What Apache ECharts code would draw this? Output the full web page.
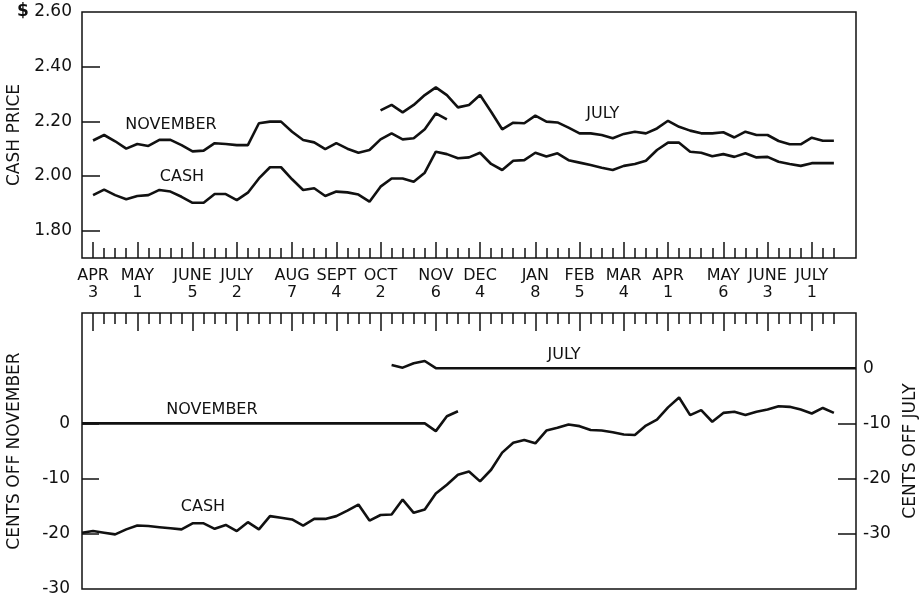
<!DOCTYPE html>
<html><head><meta charset="utf-8">
<script src="https://cdn.jsdelivr.net/npm/echarts@6/dist/echarts.min.js"></script>
<style>html,body{margin:0;padding:0;background:#fff}#c{width:923px;height:599px}</style>
</head><body><div id="c"></div>
<script>
// ---- axis / tick data ----
const N = 71; // weekly positions on the time axis (week 0 = one week before APR 3)
const majorIdx = [1,5,10,14,19,23,27,32,36,41,45,49,53,58,62,66];
const monthLabels = ['APR','MAY','JUNE','JULY','AUG','SEPT','OCT','NOV','DEC','JAN','FEB','MAR','APR','MAY','JUNE','JULY'];
const dayLabels = ['3','1','5','2','7','4','2','6','4','8','5','4','1','6','3','1'];
const firstWeekTick = 1, lastWeekTick = 68;
const priceLabels = [1.8, 2.0, 2.2, 2.4, 2.6];
const priceTicks = [1.8, 2.0, 2.2, 2.4];
const novLabels = [-30, -20, -10, 0];
const novTicks = [-20, -10, 0];
const julyLabels = [-30, -20, -10, 0];
const julyTicks = [-30, -20, -10, 0];

// ---- series data (start week + weekly values) ----
const novPriceStart = 1;
const novPrice = [2.13,2.15,2.127,2.10,2.117,2.11,2.132,2.132,2.113,2.09,2.093,2.12,2.117,2.113,2.113,2.193,2.199,2.199,2.162,2.132,2.123,2.098,2.12,2.10,2.085,2.095,2.134,2.156,2.134,2.138,2.171,2.229,2.207];
const cashPriceStart = 1;
const cashPrice = [1.93,1.95,1.93,1.915,1.927,1.93,1.949,1.943,1.924,1.902,1.902,1.934,1.934,1.912,1.939,1.991,2.032,2.032,1.988,1.949,1.955,1.927,1.943,1.94,1.932,1.906,1.961,1.991,1.991,1.979,2.012,2.089,2.08,2.065,2.068,2.085,2.044,2.022,2.056,2.058,2.085,2.071,2.083,2.058,2.049,2.04,2.03,2.022,2.037,2.044,2.056,2.095,2.122,2.122,2.089,2.085,2.072,2.08,2.07,2.083,2.068,2.07,2.052,2.044,2.037,2.047,2.047,2.047];
const julyPriceStart = 27;
const julyPrice = [2.24,2.26,2.233,2.26,2.296,2.324,2.296,2.251,2.26,2.296,2.235,2.171,2.195,2.193,2.221,2.199,2.196,2.177,2.156,2.156,2.15,2.138,2.154,2.162,2.156,2.174,2.202,2.18,2.166,2.156,2.156,2.16,2.141,2.162,2.15,2.15,2.128,2.116,2.116,2.14,2.129,2.129];

const cashBasisStart = 0; // cents (left scale)
const cashBasis = [-19.8,-19.5,-19.8,-20.1,-19.2,-18.5,-18.6,-18.8,-19.0,-19.2,-18.1,-18.1,-19.1,-18.4,-19.5,-17.9,-19.2,-16.8,-17.1,-17.4,-18.5,-17.3,-17.3,-16.8,-15.8,-14.7,-17.6,-16.6,-16.5,-13.8,-16.2,-15.6,-12.7,-11.1,-9.3,-8.7,-10.5,-8.4,-5.3,-3.5,-3.0,-3.6,-1.3,-0.8,-0.2,-0.5,-1.2,-1.3,-1.6,-2.0,-2.1,-0.4,0.7,2.9,4.7,1.5,2.4,0.3,1.9,2.1,1.5,2.1,2.5,3.1,3.0,2.5,1.8,2.8,1.9];
const novBasisStart = 0; // cents off November (left scale)
const novBasis = [0,0,0,0,0,0,0,0,0,0,0,0,0,0,0,0,0,0,0,0,0,0,0,0,0,0,0,0,0,0,0,0,-1.4,1.3,2.2];
const julyBasisStart = 28; // cents off July (right scale)
const julyBasis = [0.6,0.1,0.9,1.3,0,0,0,0,0,0,0,0,0,0,0,0,0,0,0,0,0,0,0,0,0,0,0,0,0,0,0,0,0,0,0,0,0,0,0,0,0,0,0];

// ---- annotation anchors (week, value) ----
const topNotes = [['NOVEMBER', 8.05, 2.187], ['CASH', 9.04, 1.996], ['JULY', 47.1, 2.227]];
const botNotes = [['NOVEMBER', 11.75, 2.4], ['CASH', 10.94, -15.1], ['JULY', 43.6, 12.4]];

function place(start, vals) {
  const a = new Array(N).fill(null);
  vals.forEach((v, k) => { a[start + k] = v; });
  return a;
}
const cats = Array.from({length: N}, (_, i) => String(i));
function weekLabel(v) {
  const k = majorIdx.indexOf(Number(v));
  return k >= 0 ? monthLabels[k] + '\n' + dayLabels[k] : '';
}
const INK = '#111111';
const FONT = 'DejaVu Sans';
const isMinor = (i) => i >= firstWeekTick && i <= lastWeekTick;
const isMajor = (i) => majorIdx.indexOf(i) >= 0;

function catAxis(grid, pos, tickFn, len, extra) {
  return Object.assign({
    type: 'category', gridIndex: grid, position: pos, data: cats, boundaryGap: false,
    axisLine: {show: false, onZero: false},
    axisTick: {show: true, inside: true, length: len, interval: (i) => tickFn(i), lineStyle: {color: INK, width: 1.5}},
    axisLabel: {show: false},
    splitLine: {show: false}
  }, extra || {});
}

const lineStyle = {color: INK, width: 2.6};
function lineSeries(xi, yi, data) {
  return {type: 'line', xAxisIndex: xi, yAxisIndex: yi, data: data, symbol: 'none',
    lineStyle: lineStyle, connectNulls: false, silent: true, z: 3};
}
function noteSeries(xi, yi, notes) {
  return {type: 'scatter', xAxisIndex: xi, yAxisIndex: yi, symbolSize: 0, silent: true,
    itemStyle: {opacity: 1},
    data: notes.map(n => ({name: n[0], value: [n[1], n[2]]})),
    label: {show: true, position: 'inside', formatter: (p) => p.name,
      color: INK, fontFamily: FONT, fontSize: 16, textBorderWidth: 0, opacity: 1}};
}

const gridBase = {width: 774, show: true, borderColor: INK, borderWidth: 1.5,
  backgroundColor: 'transparent', containLabel: false, outerBoundsMode: 'none'};
const nameStyle = {fontFamily: FONT, fontSize: 17, color: INK};

const option = {
  animation: false,
  backgroundColor: '#fff',
  textStyle: {fontFamily: FONT, color: INK},
  grid: [
    Object.assign({left: 82, top: 12, height: 246}, gridBase),
    Object.assign({left: 82, top: 313, height: 276}, gridBase)
  ],
  xAxis: [
    catAxis(0, 'bottom', isMinor, 10, {
      axisLabel: {show: true, interval: 0, formatter: weekLabel, color: INK, fontFamily: FONT,
        fontSize: 16, lineHeight: 17, margin: 9}
    }),
    catAxis(0, 'bottom', isMajor, 16),
    catAxis(1, 'top', isMinor, 11),
    catAxis(1, 'top', isMajor, 18),
    {type: 'value', gridIndex: 0, min: 0, max: N - 1, show: false},
    {type: 'value', gridIndex: 1, min: 0, max: N - 1, show: false}
  ],
  yAxis: [
    {type: 'value', gridIndex: 0, position: 'left', min: 1.7, max: 2.6,
      name: 'CASH PRICE', nameLocation: 'middle', nameGap: 59, nameRotate: 90, nameMoveOverlap: false,
      nameTextStyle: nameStyle,
      axisLine: {show: false, onZero: false}, splitLine: {show: false},
      axisTick: {show: true, inside: true, length: 18, customValues: priceTicks, lineStyle: {color: INK, width: 1.5}},
      axisLabel: {show: true, customValues: priceLabels, margin: 10, fontFamily: FONT, fontSize: 17, color: INK,
        formatter: (v) => v >= 2.59 ? '{d|$} ' + v.toFixed(2) : v.toFixed(2),
        rich: {d: {fontWeight: 'bold', fontSize: 17, fontFamily: FONT, color: INK}}}},
    {type: 'value', gridIndex: 1, position: 'left', min: -30, max: 20,
      name: 'CENTS OFF NOVEMBER', nameLocation: 'middle', nameGap: 59, nameRotate: 90, nameMoveOverlap: false,
      nameTextStyle: nameStyle,
      axisLine: {show: false, onZero: false}, splitLine: {show: false},
      axisTick: {show: true, inside: true, length: 17, customValues: novTicks, lineStyle: {color: INK, width: 1.5}},
      axisLabel: {show: true, customValues: novLabels, margin: 12, fontFamily: FONT, fontSize: 17, color: INK}},
    {type: 'value', gridIndex: 1, position: 'right', min: -40, max: 10,
      name: 'CENTS OFF JULY', nameLocation: 'middle', nameGap: 46, nameRotate: 90, nameMoveOverlap: false,
      nameTextStyle: nameStyle,
      axisLine: {show: false, onZero: false}, splitLine: {show: false},
      axisTick: {show: true, inside: true, length: 18, customValues: julyTicks, lineStyle: {color: INK, width: 1.5}},
      axisLabel: {show: true, customValues: julyLabels, margin: 7, fontFamily: FONT, fontSize: 17, color: INK}}
  ],
  series: [
    lineSeries(0, 0, place(novPriceStart, novPrice)),
    lineSeries(0, 0, place(cashPriceStart, cashPrice)),
    lineSeries(0, 0, place(julyPriceStart, julyPrice)),
    lineSeries(2, 1, place(novBasisStart, novBasis)),
    lineSeries(2, 1, place(cashBasisStart, cashBasis)),
    lineSeries(2, 2, place(julyBasisStart, julyBasis)),
    noteSeries(4, 0, topNotes),
    noteSeries(5, 1, botNotes)
  ]
};
const chart = echarts.init(document.getElementById('c'));
chart.setOption(option);
</script>
</body></html>
